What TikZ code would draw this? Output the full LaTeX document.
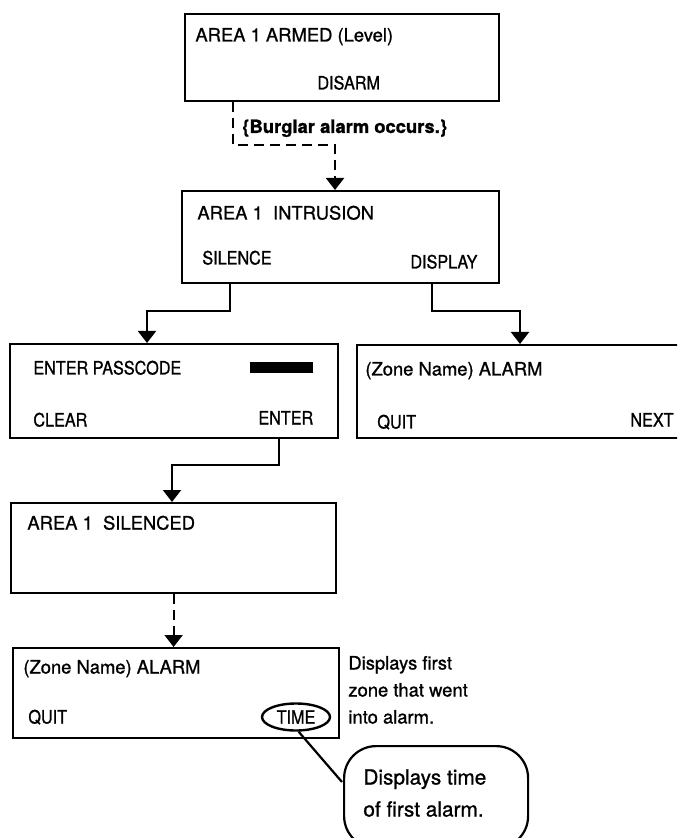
\documentclass[tikz,border=0pt]{standalone}
\usepackage{fontspec}
\setmainfont{TeX Gyre Heros}[FakeBold=1]
\newfontfamily\keyfont[FakeStretch=0.88,FakeBold=1]{TeX Gyre Heros}
\usepackage{tikz}
\usetikzlibrary{arrows.meta,shapes.geometric}

\begin{document}
\begin{tikzpicture}[x=0.5pt, y=-0.5pt,
    panel/.style={draw, line width=1.1pt, anchor=north west, inner sep=0pt},
    lbl/.style={anchor=base west, inner sep=0pt, font=\fontsize{9.2}{11}\selectfont},
    keylbl/.style={anchor=base west, inner sep=0pt, font=\keyfont\fontsize{9.2}{11}\selectfont},
    link/.style={line width=1pt, -{Triangle[width=9pt,length=6pt]}},
    dashlink/.style={link, dash pattern=on 5pt off 3pt}]

    \useasboundingbox (0,0) rectangle (677,838);
    \clip (0,0) rectangle (677,838);

    % display panels
    \node[panel, minimum width=157pt, minimum height=43.5pt] (armed) at (184,13) {};
    \node[panel, minimum width=158.5pt, minimum height=46pt] (intrusion) at (181,190) {};
    \node[panel, minimum width=164pt, minimum height=47pt] (passcode) at (9,343) {};
    \node[panel, minimum width=172pt, minimum height=46.5pt] (zonealarm) at (356,344) {};
    \node[panel, minimum width=162.5pt, minimum height=45pt] (silenced) at (10,502) {};
    \node[panel, minimum width=163pt, minimum height=45pt] (firstzone) at (12,647) {};

    % panel texts
    \node[lbl] (armedtxt) at (195,41.5) {AREA 1 ARMED (Level)};
    \node[keylbl] (disarmkey) at (317,89.5) {DISARM};
    \node[lbl, font=\bfseries\fontsize{9.2}{11}\selectfont] (burglar) at (242,133) {\{Burglar alarm occurs.\}};
    \node[lbl] (intrtxt) at (197,219.5) {AREA 1\ \ INTRUSION};
    \node[keylbl] (silencekey) at (202,264.5) {SILENCE};
    \node[keylbl] (displaykey) at (410,268.5) {DISPLAY};
    \node[keylbl] (passtxt) at (33,374.5) {ENTER PASSCODE};
    \node[fill=black, anchor=north west, inner sep=0pt, minimum width=31.5pt, minimum height=5.5pt] (codebar) at (250,362) {};
    \node[keylbl] (clearkey) at (33,426.5) {CLEAR};
    \node[keylbl] (enterkey) at (258,424.5) {ENTER};
    \node[lbl] (zonetxt) at (365,375.5) {(Zone Name) ALARM};
    \node[keylbl] (quitkey) at (377,428.5) {QUIT};
    \node[keylbl] (nextkey) at (630,426.5) {NEXT};
    \node[lbl] (silencedtxt) at (27,529.5) {AREA 1\ \ SILENCED};
    \node[lbl] (firstzonetxt) at (23,673.5) {(Zone Name) ALARM};
    \node[keylbl] (quitkeyb) at (28,723.5) {QUIT};
    \node[draw, ellipse, line width=1.2pt, inner sep=0pt, minimum width=34pt, minimum height=13.5pt,
          font=\keyfont\fontsize{9.2}{11}\selectfont] (timekey) at (296,717) {TIME};

    % notes
    \node[lbl] (notea) at (348,669.5) {Displays first};
    \node[lbl] (noteb) at (348,696.5) {zone that went};
    \node[lbl] (notec) at (348,723.5) {into alarm.};
    \node[draw, line width=1.1pt, rounded corners=16pt, anchor=north west, minimum width=92pt, minimum height=51pt] (bubble) at (343,745) {};
    \node[lbl, font=\fontsize{10.4}{12}\selectfont] (bubblea) at (363,784.5) {Displays time};
    \node[lbl, font=\fontsize{10.4}{12}\selectfont] (bubbleb) at (363,816.5) {of first alarm.};

    % connectors
    \coordinate (k1) at (233,145);
    \coordinate (k2) at (335,145);
    \coordinate (j1) at (230,311);
    \coordinate (j2) at (147,311);
    \coordinate (j3) at (432,311);
    \coordinate (j4) at (520,311);
    \coordinate (j5) at (279,465);
    \coordinate (j6) at (172,465);
    \coordinate (tail) at (342,782);

    \draw[dashlink] (armed.south -| k1) -- (k1) -- (k2) -- (intrusion.north -| k2);
    \draw[link] (intrusion.south -| j1) -- (j1) -- (j2) -- (passcode.north -| j2);
    \draw[link] (intrusion.south -| j3) -- (j3) -- (j4) -- (zonealarm.north -| j4);
    \draw[link] (passcode.south -| j5) -- (j5) -- (j6) -- (silenced.north -| j6);
    \draw[dashlink] (silenced.south) -- (silenced.south |- firstzone.north);
    \draw[line width=1.1pt] (timekey.-80) -- (tail);

\end{tikzpicture}
\end{document}
